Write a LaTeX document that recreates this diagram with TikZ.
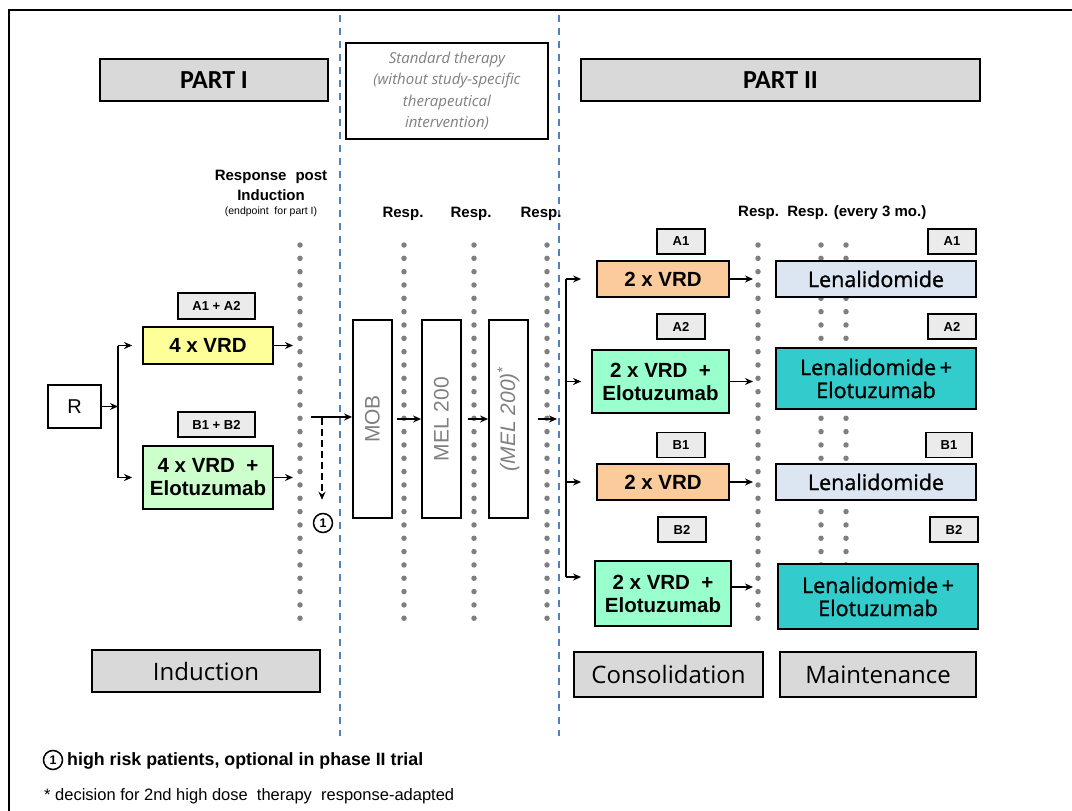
\documentclass[tikz,border=0pt]{standalone}
\usepackage{fontspec}
\usepackage{graphicx}
\setmainfont{Liberation Sans}
\newfontfamily\carl{Carlito}
\newfontfamily\osans{Open Sans}
\newfontfamily\osansb[FakeBold=1.2]{Open Sans}
\usetikzlibrary{arrows.meta}
\definecolor{partgray}{HTML}{D9D9D9}
\definecolor{labgray}{HTML}{EBEBEB}
\definecolor{yellowbox}{HTML}{FFFF99}
\definecolor{lgreen}{HTML}{CCFFCC}
\definecolor{orangebox}{HTML}{FBCB9B}
\definecolor{mint}{HTML}{99FFCC}
\definecolor{lenblue}{HTML}{DCE6F2}
\definecolor{tealbox}{HTML}{33CCCC}
\definecolor{txtgray}{HTML}{808080}
\definecolor{dotgray}{HTML}{7F7F7F}
\definecolor{bluel}{HTML}{4F81BD}
\begin{document}
\begin{tikzpicture}[x=1pt,y=-1pt,
  bx/.style={draw=black, line width=1.8pt, inner sep=0pt, align=center},
  lab/.style={bx, fill=labgray, minimum width=48pt, minimum height=25pt, font=\bfseries\fontsize{13}{15}\selectfont},
  partbox/.style={bx, fill=partgray, minimum height=42pt, font=\carl\bfseries\fontsize{26}{30}\selectfont},
  phasebox/.style={bx, fill=partgray, font=\osans\fontsize{24}{28}\selectfont},
  vrd/.style={bx, font=\bfseries\fontsize{20.5}{23}\selectfont},
  lena/.style={bx, minimum width=200pt, font=\osansb\fontsize{21.5}{23}\selectfont},
  hdt/.style={bx, fill=white, minimum width=39pt, minimum height=198pt, text=txtgray, font=\fontsize{21}{24}\selectfont},
  resp/.style={font=\bfseries\fontsize{15}{17}\selectfont, inner sep=0pt},
  arr/.style={line width=1.6pt, -{Stealth[length=8pt,width=7pt]}},
  dotcol/.style={draw=dotgray, line width=5.5pt, line cap=round, dash pattern=on 0pt off 13.33pt},
  bluedash/.style={draw=bluel, line width=2pt, dash pattern=on 7pt off 6pt},
  circ/.style={circle, draw=black, line width=1.5pt, minimum size=19pt, inner sep=0pt, font=\bfseries\fontsize{12.5}{12.5}\selectfont}
]
\useasboundingbox (0,0) rectangle (1072,811);
% frame
\draw[line width=2.5pt] (9,811) -- (9,10) -- (1072,10);
% phase separators
\draw[bluedash] (340,15) -- (340,736);
\draw[bluedash] (559,15) -- (559,736);
% dotted response columns
\foreach \x in {300,404,474,547,758} \draw[dotcol] (\x,245) -- (\x,625);
\foreach \x in {821,846} \draw[dotcol] (\x,245) -- (\x,600);

% headers
\node[partbox, minimum width=228pt] (p1) at (214,80) {PART I};
\node[bx, fill=white, minimum width=202pt, minimum height=96pt, text=txtgray,
      font=\osans\itshape\fontsize{15}{21.5}\selectfont] (std) at (447,91)
      {Standard therapy\\(without study-specific\\therapeutical\\intervention)};
\node[partbox, minimum width=399pt] (p2) at (780.5,80) {PART II};

% response labels
\node[resp] (rp1) at (271,177) {Response\hspace{9pt}post};
\node[resp] (rp2) at (271,195) {Induction};
\node[font=\fontsize{10.5}{12}\selectfont, inner sep=0pt] (rp3) at (271,212) {(endpoint\ \ for part I)};
\node[resp] (r1) at (403,214) {Resp.};
\node[resp] (r2) at (471,214) {Resp.};
\node[resp] (r3) at (541,214) {Resp.};
\node[resp, anchor=west] (r4) at (738,213) {Resp.\ \ Resp. (every 3 mo.)};

% Part I
\node[bx, fill=white, minimum width=53pt, minimum height=43pt, font=\fontsize{20}{22}\selectfont] (R) at (74.5,406.5) {R};
\node[lab, minimum width=77pt, minimum height=26pt] (lA) at (216.5,306) {A1 + A2};
\node[vrd, fill=yellowbox, minimum width=130pt, minimum height=37pt] (v4) at (208,345.5) {4 x VRD};
\node[lab, minimum width=77pt] (lB) at (216.5,424.5) {B1 + B2};
\node[vrd, fill=lgreen, minimum width=130pt, minimum height=63pt] (v4e) at (208,477.5) {4 x VRD\ \ +\\Elotuzumab};

% standard therapy
\node[hdt] (mob) at (372.5,419) {\rotatebox{90}{MOB}};
\node[hdt] (mel) at (441.5,419) {\rotatebox{90}{MEL 200}};
\node[hdt] (mel2) at (508.5,419) {\rotatebox{90}{\itshape (MEL 200)\textsuperscript{*}}};
\node[circ] (c1) at (323,523) {1};

% Part II consolidation
\node[lab] (lA1) at (681,241.5) {A1};
\node[vrd, fill=orangebox, minimum width=132pt, minimum height=36pt] (cA1) at (663,279) {2 x VRD};
\node[lab] (lA2) at (681,326.5) {A2};
\node[vrd, fill=mint, minimum width=137pt, minimum height=63pt] (cA2) at (660.5,381.5) {2 x VRD\ \ +\\Elotuzumab};
\node[lab] (lB1) at (681,445) {B1};
\node[vrd, fill=orangebox, minimum width=132pt, minimum height=36pt] (cB1) at (663,482) {2 x VRD};
\node[lab] (lB2) at (682,529.5) {B2};
\node[vrd, fill=mint, minimum width=136pt, minimum height=65pt] (cB2) at (663,593.5) {2 x VRD\ \ +\\Elotuzumab};

% Part II maintenance
\node[lab] (mlA1) at (952,241.5) {A1};
\node[lena, fill=lenblue, minimum height=36pt] (mA1) at (876,279) {Lenalidomide};
\node[lab] (mlA2) at (952,326.5) {A2};
\node[lena, fill=tealbox, minimum height=61pt] (mA2) at (876,378.5) {Lenalidomide\,+\\Elotuzumab};
\node[lab, minimum width=46pt] (mlB1) at (949,445) {B1};
\node[lena, fill=lenblue, minimum height=36pt] (mB1) at (876,482) {Lenalidomide};
\node[lab] (mlB2) at (954,529.5) {B2};
\node[lena, fill=tealbox, minimum height=65pt] (mB2) at (878,596.5) {Lenalidomide\,+\\Elotuzumab};

% phase labels
\node[phasebox, minimum width=228pt, minimum height=42pt] (ind) at (206,671) {Induction};
\node[phasebox, minimum width=189pt, minimum height=45pt] (con) at (668.5,674.5) {Consolidation};
\node[phasebox, minimum width=196pt, minimum height=45pt] (mai) at (878,674.5) {Maintenance};

% footnotes
\node[circ] (c2) at (53,760) {1};
\node[anchor=west, inner sep=0pt, font=\bfseries\fontsize{17.8}{19}\selectfont] (f1) at (67,761) {high risk patients, optional in phase II trial};
\node[anchor=west, inner sep=0pt, font=\fontsize{16.5}{18}\selectfont] (f2) at (44,796) {* decision for 2nd high dose\ \ therapy\ \ response-adapted};

% coordinates for free ends
\coordinate (j1) at (118,406.5);
\coordinate (di) at (293,245);
\coordinate (s1) at (311,417);
\coordinate (s2) at (322,418);
\coordinate (de) at (557,245);
\coordinate (vt) at (566,279);
\coordinate (vb) at (566,577);
\coordinate (dc) at (753,245);
\coordinate (b2o) at ([yshift=6.5pt]cB2.east);

% connectors Part I
\draw[arr] (R.east) -- (j1);
\draw[line width=1.6pt] (j1 |- v4.west) -- (j1 |- v4e.west);
\draw[arr, shorten >=10pt] (j1 |- v4.west) -- (v4.west);
\draw[arr, shorten >=10pt] (j1 |- v4e.west) -- (v4e.west);
\draw[arr] (v4.east) -- (v4.east -| di);
\draw[arr] (v4e.east) -- (v4e.east -| di);
\draw[arr] (s1) -- (s1 -| mob.west);
\draw[arr, dash pattern=on 7pt off 4pt, shorten >=13pt] (s2) -- (s2 |- c1.north);
\draw[arr, shorten <=4pt] (mob.east) -- (mel.west);
\draw[arr, shorten <=6pt] (mel.east) -- (mel2.west);
\draw[arr, shorten <=9pt] (mel2.east) -- (mel2.east -| de);

% connectors Part II
\draw[line width=1.6pt] (vt) -- (vb);
\draw[arr, shorten >=15pt] (vt) -- (cA1.west);
\draw[arr, shorten >=10pt] (vt |- cA2.west) -- (cA2.west);
\draw[arr, shorten >=15pt] (vt |- cB1.west) -- (cB1.west);
\draw[arr, shorten >=13pt] (vb) -- (vb -| cB2.west);
\draw[arr] (cA1.east) -- (cA1.east -| dc);
\draw[arr] (cA2.east) -- (cA2.east -| dc);
\draw[arr] (cB1.east) -- (cB1.east -| dc);
\draw[arr] (b2o) -- (b2o -| dc);
\end{tikzpicture}
\end{document}
